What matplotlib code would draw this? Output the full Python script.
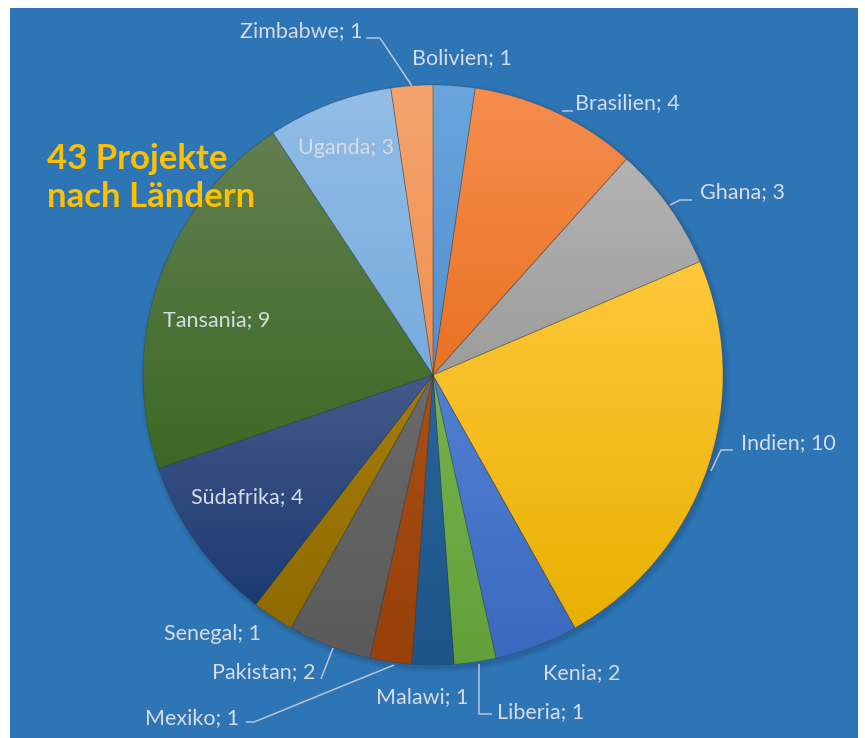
import matplotlib.pyplot as plt
import matplotlib.colors as mcolors
from matplotlib.patches import Rectangle, Circle
import numpy as np

# data
countries = ['Bolivien', 'Brasilien', 'Ghana', 'Indien', 'Kenia', 'Liberia', 'Malawi',
             'Mexiko', 'Pakistan', 'Senegal', 'Südafrika', 'Tansania', 'Uganda', 'Zimbabwe']
projects = [1, 4, 3, 10, 2, 1, 1, 1, 2, 1, 4, 9, 3, 1]

# gradient colours per slice (top, bottom)
top_colors = ['#6aa6dd', '#f58d4f', '#b3b3b3', '#ffc83a', '#5080d2', '#76b24d', '#28649a',
              '#a84f14', '#6a6a6a', '#a47c0a', '#43598a', '#627f50', '#92bde6', '#f5a46e']
bottom_colors = ['#4f8fcf', '#ea7222', '#9c9c9c', '#e9b000', '#3c69c0', '#62a13a', '#1c5588',
                 '#98400a', '#5a5a5a', '#8f6b00', '#1c3a72', '#3b6924', '#76abdd', '#ee9050']

W, H = 865, 738
BG = '#2e75b6'
TXT = '#d6dbe4'
LINE = '#b8c6da'


def py(y):
    # image y (top down) -> data y (bottom up)
    return H - y


fig = plt.figure(figsize=(W / 100, H / 100), dpi=100)
ax = fig.add_axes([0, 0, 1, 1])
ax.set_xlim(0, W)
ax.set_ylim(0, H)
ax.set_aspect('equal')
ax.axis('off')

ax.add_patch(Rectangle((10, 0), 848, H - 8, facecolor=BG, edgecolor='none', zorder=0))

cx, cy, r = 433, py(375), 290

# soft shadow
for i, a in enumerate([0.05, 0.05, 0.06, 0.07]):
    ax.add_patch(Circle((cx + 2, cy - 3), r + 5 - i * 1.5, facecolor='#0a2a4a', alpha=a,
                        edgecolor='none', zorder=1))

wedges, _ = ax.pie(projects, center=(cx, cy), radius=r, startangle=90, counterclock=False,
                   frame=True, wedgeprops=dict(fill=False, edgecolor=(0.2, 0.2, 0.2, 0.3),
                                               linewidth=0.6))
ax.set_xlim(0, W)
ax.set_ylim(0, H)
ax.axis('off')

for w, c0, c1 in zip(wedges, top_colors, bottom_colors):
    w.set_zorder(3)
    v = w.get_path().vertices
    x0, x1 = v[:, 0].min(), v[:, 0].max()
    y0, y1 = v[:, 1].min(), v[:, 1].max()
    t = np.linspace(0, 1, 64)[:, None]
    a0 = np.array(mcolors.to_rgb(c0))
    a1 = np.array(mcolors.to_rgb(c1))
    grad = (a0 * (1 - t) + a1 * t)[:, None, :]
    im = ax.imshow(grad, extent=[x0 - 1, x1 + 1, y0 - 1, y1 + 1], origin='upper',
                   aspect='auto', interpolation='bilinear', zorder=2)
    im.set_clip_path(w)

ax.set_xlim(0, W)
ax.set_ylim(0, H)

# labels
label_pos = {
    'Zimbabwe': (301, 31), 'Bolivien': (462, 58), 'Brasilien': (627, 103),
    'Ghana': (742, 192), 'Indien': (788, 443), 'Kenia': (582, 673),
    'Liberia': (541, 712), 'Malawi': (422, 697), 'Mexiko': (192, 718),
    'Pakistan': (264, 672), 'Senegal': (212, 634), 'Südafrika': (247, 497),
    'Tansania': (217, 320), 'Uganda': (346, 148),
}
for name, val in zip(countries, projects):
    x, y = label_pos[name]
    ax.text(x, py(y), f'{name}; {val}', ha='center', va='center', fontsize=15.5,
            family='Lato', color=TXT, zorder=5)

leaders = [
    [(366, 38), (380, 38), (412, 86)],
    [(562, 111), (573, 111)],
    [(670, 205), (680, 200), (692, 200)],
    [(711, 471), (721, 450), (733, 450)],
    [(479, 664), (479, 714), (492, 714)],
    [(246, 722), (254, 722), (394, 665)],
    [(321, 679), (333, 648)],
]
for pts in leaders:
    xs = [p[0] for p in pts]
    ys = [py(p[1]) for p in pts]
    ax.plot(xs, ys, color=LINE, lw=1.1, zorder=4, solid_capstyle='butt')

ax.text(47, py(178), '43 Projekte\nnach Ländern', ha='left', va='center', fontsize=25,
        family='Lato', fontweight='bold', color='#ffc000', linespacing=1.25, zorder=5)

fig.savefig('out.png', dpi=100, facecolor='white')
